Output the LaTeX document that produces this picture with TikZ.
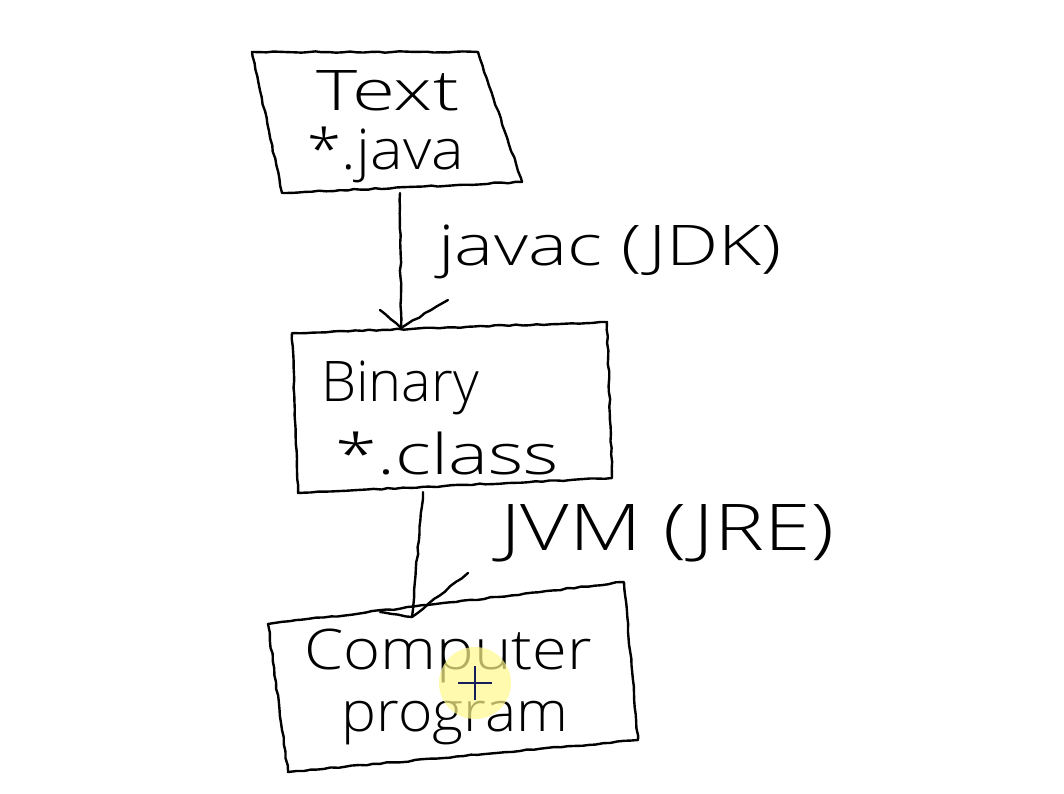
\documentclass[tikz,border=0pt]{standalone}
\usepackage{fontspec}
\setmainfont{Open Sans Light}[BoldFont=Open Sans]
\usetikzlibrary{decorations.pathmorphing}
\begin{document}
\begin{tikzpicture}[x=1pt,y=1pt,
  ink/.style={line width=2.4pt,line join=round,line cap=round,draw=black,
    decorate,decoration={random steps,segment length=7pt,amplitude=0.7pt}},
  hand/.style={font=\fontsize{56}{58}\selectfont,inner sep=0pt},
  lbl/.style={font=\fontsize{56}{58}\selectfont,inner sep=0pt}]
\useasboundingbox[fill=white] (0,0) rectangle (1064,793);
% box corners (y = 793 - pixel y)
\coordinate (a1) at (252,741); \coordinate (a2) at (478,741);
\coordinate (a3) at (522,611); \coordinate (a4) at (282,600);
\coordinate (b1) at (292,460); \coordinate (b2) at (607,471);
\coordinate (b3) at (612,315); \coordinate (b4) at (298,300);
\coordinate (c1) at (268,169); \coordinate (c2) at (624,211);
\coordinate (c3) at (638,53);  \coordinate (c4) at (288,21);
\draw[ink] (a1) -- (a2) -- (a3) -- (a4) -- cycle;
\draw[ink] (b1) -- (b2) -- (b3) -- (b4) -- cycle;
\draw[ink] (c1) -- (c2) -- (c3) -- (c4) -- cycle;
% texts
\node[hand,xscale=1.4] (t1) at (388,702) {Text};
\node[hand,xscale=1.1] (t2) at (386,638) {*.java};
\node[hand] (t3) at (400,405) {Binary};
\node[hand,xscale=1.35] (t4) at (447,340) {*.class};
\node[hand,xscale=1.13] (t5) at (448,137) {Computer};
\node[hand,xscale=1.05] (t6) at (455,70) {program};
\node[lbl,xscale=1.32] (l1) at (610,541) {javac (JDK)};
\node[lbl,xscale=1.5,yscale=1.15] (l2) at (667,260) {JVM (JRE)};
% connectors
\coordinate (s1) at (400,600); \coordinate (e1) at (401,465);
\coordinate (s2) at (423,301); \coordinate (e2) at (412,176);
\draw[ink] (s1) -- (e1);
\draw[ink] (e1) -- (380,483);
\draw[ink] (e1) -- (448,493);
\draw[ink] (s2) -- (e2);
\draw[ink] (e2) -- (468,220);
\draw[ink] (e2) -- (380,181);
% cursor highlight
\fill[yellow!45,opacity=0.7] (475,110) circle (36);
\draw[line width=2pt,draw={rgb,255:red,20;green,30;blue,90}] (458,110) -- (492,110) (475,93) -- (475,127);
\end{tikzpicture}
\end{document}
